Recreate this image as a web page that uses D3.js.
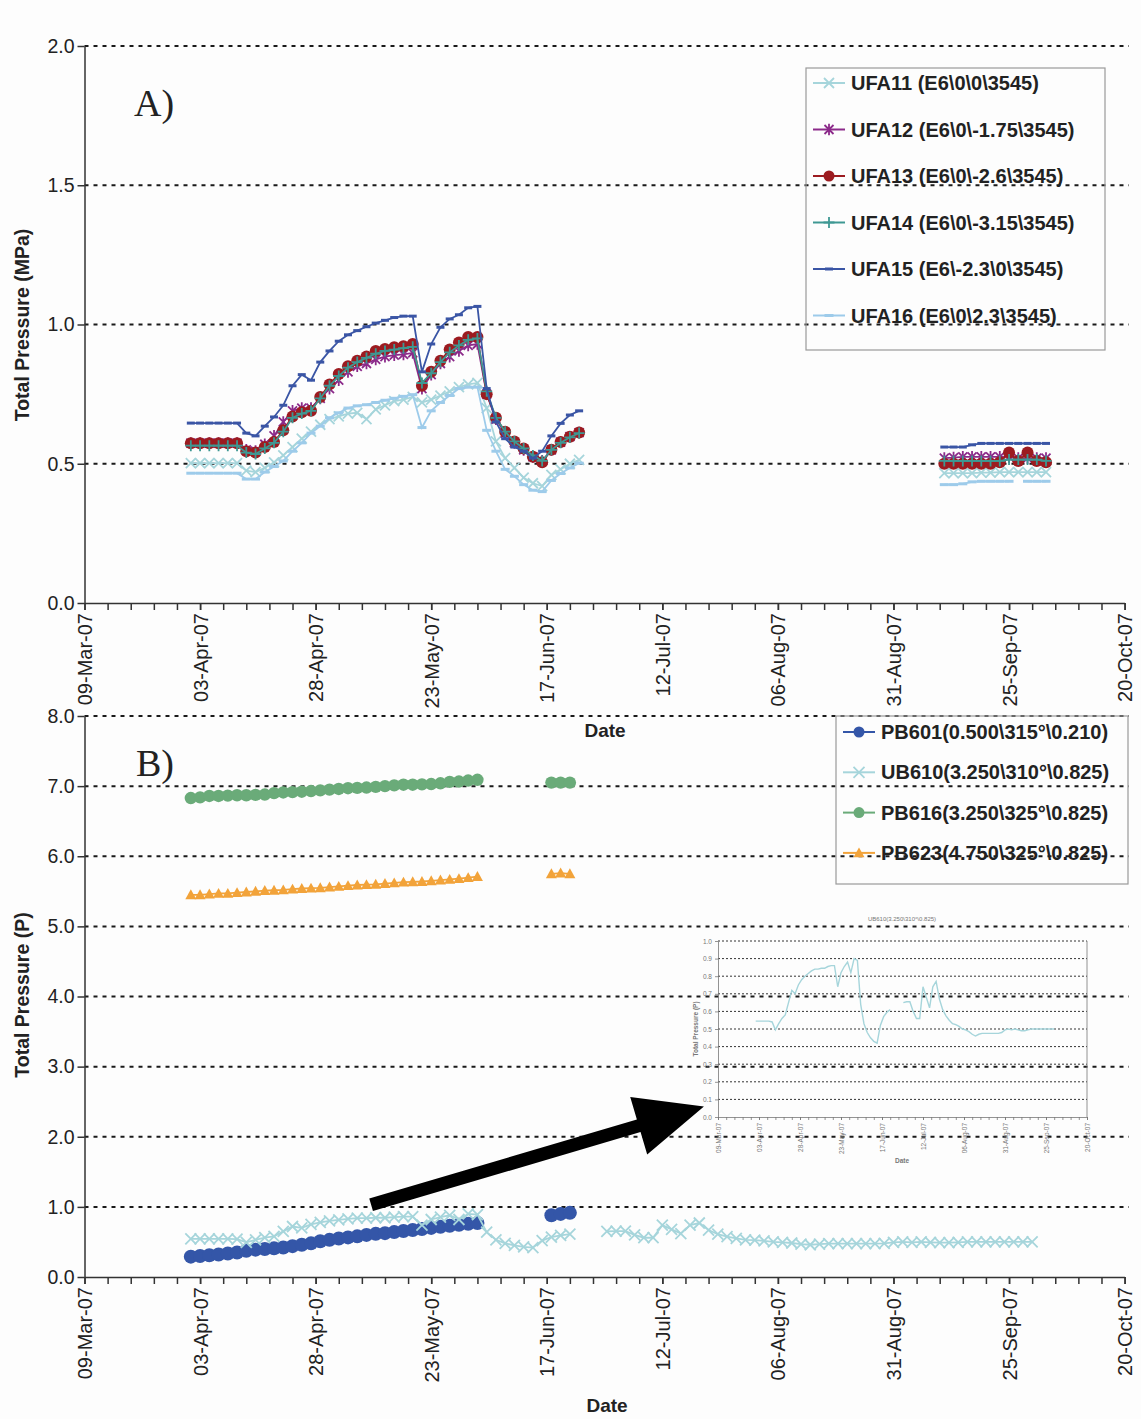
<html>

<head>
  <title>Total pressure - UFA and PB cells</title>
  <script src="https://d3js.org/d3.v7.min.js"></script>
  <style>
    body {
      margin: 0;
      background: #fdfdfd;
    }

    text {
      font-family: Arial, "Liberation Sans", sans-serif;
      fill: #222;
    }

    .grid {
      stroke: #1a1a1a;
      stroke-width: 2;
      stroke-dasharray: 4, 5;
    }

    .grid-small {
      stroke: #333;
      stroke-width: 1;
      stroke-dasharray: 2, 2;
    }

    .axis path,
    .axis line {
      stroke: #333;
      stroke-width: 1.5;
    }

    .inset path,
    .inset line {
      stroke: #777;
      stroke-width: 0.8;
    }

    .inset text {
      fill: #777;
    }
  </style>
</head>

<body>
  <svg id="chart" width="1141" height="1419"></svg>

  <script>

    // ---- data ----
    // readings are every 2 days, one array per logged block
    const STEP = 2;

    const dateTicks = ["09-Mar-07", "03-Apr-07", "28-Apr-07", "23-May-07", "17-Jun-07",
      "12-Jul-07", "06-Aug-07", "31-Aug-07", "25-Sep-07", "20-Oct-07"];
    const yTicksA = [0, 0.5, 1.0, 1.5, 2.0];
    const yTicksB = [0, 1, 2, 3, 4, 5, 6, 7, 8];
    const yTicksInset = [0, 0.1, 0.2, 0.3, 0.4, 0.5, 0.6, 0.7, 0.8, 0.9, 1.0];

    // panel A : UFA cells
    const blockStartA = ["2007-04-01", "2007-09-11"];
    const namesA = ["UFA11 (E6\\0\\0\\3545)", "UFA12 (E6\\0\\-1.75\\3545)", "UFA13 (E6\\0\\-2.6\\3545)",
      "UFA14 (E6\\0\\-3.15\\3545)", "UFA15 (E6\\-2.3\\0\\3545)", "UFA16 (E6\\0\\2.3\\3545)"];

    const ufa11 = [0.502, 0.502, 0.502, 0.502, 0.502, 0.502, 0.475, 0.47, 0.485, 0.505, 0.53, 0.56, 0.59, 0.615, 0.64, 0.66,
      0.67, 0.68, 0.683, 0.66, 0.695, 0.71, 0.725, 0.73, 0.74, 0.72, 0.73, 0.745, 0.76, 0.775, 0.785, 0.79, 0.70, 0.58, 0.52, 0.485,
      0.45, 0.43, 0.42, 0.46, 0.48, 0.50, 0.514];
    const ufa11b = [0.466, 0.466, 0.466, 0.466, 0.468, 0.468, 0.47, 0.47, 0.47, 0.47, 0.47, 0.47];

    const ufa12 = [0.574, 0.574, 0.574, 0.574, 0.574, 0.574, 0.55, 0.545, 0.57, 0.60, 0.65, 0.69, 0.70, 0.70, 0.735, 0.77,
      0.80, 0.83, 0.85, 0.86, 0.875, 0.885, 0.89, 0.893, 0.898, 0.77, 0.82, 0.86, 0.885, 0.905, 0.925, 0.93, 0.75, 0.66, 0.61, 0.575,
      0.55, 0.525, 0.51, 0.55, 0.578, 0.597, 0.612];
    const ufa12b = [0.52, 0.522, 0.525, 0.525, 0.525, 0.525, 0.525, 0.525, 0.52, 0.52, 0.52, 0.52];

    const ufa13 = [0.574, 0.574, 0.574, 0.574, 0.574, 0.574, 0.545, 0.54, 0.56, 0.578, 0.62, 0.67, 0.685, 0.69, 0.74, 0.785,
      0.822, 0.85, 0.87, 0.885, 0.905, 0.912, 0.918, 0.922, 0.93, 0.78, 0.83, 0.87, 0.91, 0.935, 0.955, 0.955, 0.75, 0.665, 0.615, 0.58,
      0.555, 0.525, 0.505, 0.55, 0.578, 0.597, 0.612];
    const ufa13b = [0.50, 0.50, 0.50, 0.50, 0.50, 0.50, 0.505, 0.54, 0.51, 0.54, 0.51, 0.505];

    const ufa14 = [0.565, 0.565, 0.565, 0.565, 0.565, 0.565, 0.54, 0.535, 0.555, 0.575, 0.615, 0.665, 0.68, 0.69, 0.735, 0.78,
      0.815, 0.845, 0.865, 0.88, 0.895, 0.905, 0.91, 0.915, 0.92, 0.79, 0.825, 0.865, 0.90, 0.925, 0.945, 0.95, 0.76, 0.665, 0.615, 0.58,
      0.555, 0.53, 0.51, 0.55, 0.575, 0.595, 0.61];
    const ufa14b = [0.51, 0.51, 0.51, 0.51, 0.51, 0.51, 0.51, 0.515, 0.515, 0.515, 0.515, 0.51];

    const ufa15 = [0.646, 0.646, 0.646, 0.646, 0.646, 0.646, 0.61, 0.60, 0.635, 0.668, 0.71, 0.78, 0.82, 0.80, 0.865, 0.905,
      0.94, 0.963, 0.978, 0.992, 1.005, 1.015, 1.025, 1.03, 1.03, 0.83, 0.93, 0.99, 1.02, 1.035, 1.06, 1.065, 0.77, 0.65, 0.59, 0.56,
      0.545, 0.52, 0.545, 0.60, 0.645, 0.675, 0.69];
    const ufa15b = [0.56, 0.56, 0.56, 0.568, 0.573, 0.573, 0.573, 0.573, 0.573, 0.573, 0.573, 0.573];

    const ufa16 = [0.466, 0.466, 0.466, 0.466, 0.466, 0.466, 0.445, 0.445, 0.47, 0.49, 0.51, 0.545, 0.575, 0.61, 0.635, 0.665,
      0.683, 0.70, 0.708, 0.712, 0.72, 0.728, 0.735, 0.742, 0.748, 0.63, 0.69, 0.72, 0.745, 0.77, 0.775, 0.775, 0.62, 0.545, 0.48, 0.455,
      0.425, 0.405, 0.40, 0.44, 0.465, 0.485, 0.502];
    const ufa16b = [0.425, 0.425, 0.428, 0.435, 0.437, 0.437, 0.437, 0.437, null, 0.437, 0.437, 0.437];

    // panel B : PB / UB cells
    const blockStartPB = ["2007-04-01", "2007-06-18"];
    const blockStartUB = ["2007-04-01", "2007-06-30"];
    const namesB = ["PB601(0.500\\315°\\0.210)", "UB610(3.250\\310°\\0.825)",
      "PB616(3.250\\325°\\0.825)", "PB623(4.750\\325°\\0.825)"];

    const pb601 = [0.29, 0.30, 0.31, 0.32, 0.335, 0.35, 0.375, 0.39, 0.40, 0.41, 0.42, 0.44, 0.46, 0.48, 0.51, 0.53,
      0.55, 0.565, 0.58, 0.60, 0.615, 0.625, 0.64, 0.655, 0.67, 0.685, 0.70, 0.715, 0.73, 0.745, 0.76, 0.77];
    const pb601b = [0.88, 0.90, 0.915];

    const ub610 = [0.545, 0.545, 0.545, 0.545, 0.545, 0.54, 0.495, 0.53, 0.56, 0.58, 0.65, 0.72, 0.70, 0.75, 0.78, 0.80,
      0.815, 0.83, 0.84, 0.84, 0.845, 0.845, 0.855, 0.86, 0.86, 0.74, 0.82, 0.855, 0.88, 0.82, 0.90, 0.89, 0.64, 0.53, 0.48, 0.45,
      0.43, 0.42, 0.52, 0.57, 0.595, 0.61];
    const ub610b = [0.65, 0.655, 0.655, 0.60, 0.56, 0.56, 0.74, 0.68, 0.62, 0.74, 0.77, 0.67, 0.61, 0.575, 0.55, 0.53,
      0.525, 0.515, 0.50, 0.495, 0.485, 0.47, 0.46, 0.47, 0.475, 0.475, 0.475, 0.475, 0.475, 0.475, 0.48, 0.495,
      0.50, 0.495, 0.50, 0.495, 0.49, 0.49, 0.495, 0.50, 0.50, 0.50, 0.50, 0.50, 0.50, 0.50, 0.50];

    const pb616 = [6.83, 6.84, 6.86, 6.86, 6.865, 6.87, 6.87, 6.875, 6.88, 6.90, 6.91, 6.915, 6.92, 6.93, 6.94, 6.95,
      6.96, 6.97, 6.975, 6.98, 6.99, 7.0, 7.01, 7.02, 7.02, 7.025, 7.03, 7.04, 7.06, 7.065, 7.08, 7.09];
    const pb616b = [7.05, 7.05, 7.05];

    const pb623 = [5.45, 5.45, 5.46, 5.47, 5.47, 5.48, 5.49, 5.50, 5.51, 5.515, 5.52, 5.53, 5.54, 5.545, 5.55, 5.56,
      5.57, 5.58, 5.59, 5.595, 5.60, 5.61, 5.62, 5.63, 5.635, 5.64, 5.65, 5.66, 5.67, 5.68, 5.695, 5.71];
    const pb623b = [5.75, 5.76, 5.75];

    // arrow from the PB601 data to the inset (date, pressure)
    const arrowFrom = ["2007-05-10", 1.03];
    const arrowTo = ["2007-07-21", 2.43];


    // ---- drawing ----
    const svg = d3.select("#chart");

    const parseTick = d3.utcParse("%d-%b-%y");
    const parseDay = d3.utcParse("%Y-%m-%d");
    const tickDates = dateTicks.map(parseTick);
    const firstDay = tickDates[0];
    const lastDay = tickDates[tickDates.length - 1];
    const minorDates = d3.utcDay.range(firstDay, d3.utcDay.offset(lastDay, 1), 5);

    const toPoints = function (starts, blocks) {
      let pts = [];
      blocks.forEach((vals, b) => {
        const s = parseDay(starts[b]);
        if (b > 0) pts.push({ date: s, v: null });
        vals.forEach((v, i) => pts.push({ date: d3.utcDay.offset(s, i * STEP), v: v }));
      });
      return pts;
    };

    const seriesA = [
      { name: namesA[0], pts: toPoints(blockStartA, [ufa11, ufa11b]), color: "#a6d5db", mark: "x", s: 5 },
      { name: namesA[1], pts: toPoints(blockStartA, [ufa12, ufa12b]), color: "#8c2a8a", mark: "star", s: 4.5 },
      { name: namesA[2], pts: toPoints(blockStartA, [ufa13, ufa13b]), color: "#9c1b20", mark: "circle", s: 6 },
      { name: namesA[3], pts: toPoints(blockStartA, [ufa14, ufa14b]), color: "#3e9893", mark: "plus", s: 5.5 },
      { name: namesA[4], pts: toPoints(blockStartA, [ufa15, ufa15b]), color: "#3a55a5", mark: "dash", s: 4 },
      { name: namesA[5], pts: toPoints(blockStartA, [ufa16, ufa16b]), color: "#9dcbea", mark: "dash", s: 4.5 }
    ];

    const seriesB = [
      { name: namesB[0], pts: toPoints(blockStartPB, [pb601, pb601b]), color: "#3456a8", mark: "circle", s: 7 },
      { name: namesB[1], pts: toPoints(blockStartUB, [ub610, ub610b]), color: "#a6d5db", mark: "x", s: 5.5 },
      { name: namesB[2], pts: toPoints(blockStartPB, [pb616, pb616b]), color: "#6aab79", mark: "circle", s: 6.2 },
      { name: namesB[3], pts: toPoints(blockStartPB, [pb623, pb623b]), color: "#f2a33a", mark: "triangle", s: 5.5 }
    ];

    const markPath = function (kind, s) {
      switch (kind) {
        case "x": return `M${-s},${-s}L${s},${s}M${-s},${s}L${s},${-s}`;
        case "star": return `M${-s},${-s}L${s},${s}M${-s},${s}L${s},${-s}M0,${-s * 1.3}V${s * 1.3}`;
        case "plus": return `M${-s},0H${s}M0,${-s}V${s}`;
        case "dash": return `M${-s},0H${s}`;
        case "triangle": return `M0,${-s}L${s},${s * 0.8}L${-s},${s * 0.8}Z`;
        case "circle": return d3.symbol().type(d3.symbolCircle).size(Math.PI * s * s)();
      }
    };

    const drawMark = function (sel, d) {
      const filled = d.mark === "circle" || d.mark === "triangle";
      sel.attr("d", markPath(d.mark, d.s))
        .attr("fill", filled ? d.color : "none")
        .attr("stroke", filled ? "none" : d.color)
        .attr("stroke-width", d.mark === "dash" ? 3 : 1.8);
    };

    const drawPanel = function (cfg) {
      const g = svg.append("g");
      const x = d3.scaleUtc().domain([firstDay, lastDay]).range([cfg.left, cfg.right]);
      const y = d3.scaleLinear().domain([cfg.yTicks[0], cfg.yTicks[cfg.yTicks.length - 1]]).range([cfg.bottom, cfg.top]);

      g.selectAll("line.gl").data(cfg.yTicks.filter(t => t > 0))
        .join("line")
        .attr("class", cfg.small ? "grid-small" : "grid")
        .attr("x1", cfg.left).attr("x2", cfg.gridEnd)
        .attr("y1", d => y(d)).attr("y2", d => y(d));

      const cls = cfg.small ? "inset" : "axis";

      g.append("g").attr("class", cls)
        .attr("transform", `translate(0,${cfg.bottom})`)
        .call(d3.axisBottom(x).tickValues(minorDates).tickFormat("").tickSize(cfg.tick))
        .call(a => a.select(".domain").remove());

      const xa = g.append("g").attr("class", cls)
        .attr("transform", `translate(0,${cfg.bottom})`)
        .call(d3.axisBottom(x).tickValues(tickDates).tickFormat(d3.utcFormat("%d-%b-%y")).tickSize(cfg.tick).tickSizeOuter(0));
      xa.selectAll("text")
        .attr("transform", "rotate(-90)")
        .attr("x", -cfg.tick - 3).attr("y", 0).attr("dy", "0.35em")
        .style("text-anchor", "end")
        .style("font-size", cfg.xFont + "px");

      const ya = g.append("g").attr("class", cls)
        .attr("transform", `translate(${cfg.left},0)`)
        .call(d3.axisLeft(y).tickValues(cfg.yTicks).tickFormat(d3.format(".1f")).tickSize(cfg.tick).tickSizeOuter(0));
      ya.selectAll("text").style("font-size", cfg.yFont + "px");

      return { g, x, y };
    };

    const plotSeries = function (panel, series, withMarks) {
      const line = d3.line().defined(d => d.v != null)
        .x(d => panel.x(d.date)).y(d => panel.y(d.v));
      series.forEach(s => {
        const sg = panel.g.append("g");
        sg.append("path").datum(s.pts)
          .attr("d", line)
          .attr("fill", "none")
          .attr("stroke", s.color)
          .attr("stroke-width", withMarks ? 1.8 : 1.4);
        if (!withMarks) return;
        sg.selectAll("path.m").data(s.pts.filter(d => d.v != null))
          .join("path")
          .attr("class", "m")
          .attr("transform", d => `translate(${panel.x(d.date)},${panel.y(d.v)})`)
          .each(function () { drawMark(d3.select(this), s); });
      });
    };

    const drawLegend = function (series, box, rowH, fontSize) {
      const lg = svg.append("g");
      lg.append("rect")
        .attr("x", box.x).attr("y", box.y).attr("width", box.w).attr("height", box.h)
        .attr("fill", "none").attr("stroke", "#9a9a9a").attr("stroke-width", 1.2);
      series.forEach((s, i) => {
        const cy = box.first + i * rowH;
        lg.append("line")
          .attr("x1", box.lx).attr("x2", box.lx + 32).attr("y1", cy).attr("y2", cy)
          .attr("stroke", s.color).attr("stroke-width", 2);
        lg.append("path")
          .attr("transform", `translate(${box.lx + 16},${cy})`)
          .call(sel => drawMark(sel, Object.assign({}, s, { s: Math.min(s.s, 5.5) })));
        lg.append("text")
          .attr("x", box.lx + 38).attr("y", cy).attr("dy", "0.35em")
          .style("font-size", fontSize + "px").style("font-weight", "bold")
          .text(s.name);
      });
    };

    // panel A
    const panelA = drawPanel({ left: 84.5, right: 1124.6, gridEnd: 1129, top: 46, bottom: 603, yTicks: yTicksA, tick: 7, xFont: 20, yFont: 19.5 });
    plotSeries(panelA, seriesA, true);
    drawLegend(seriesA, { x: 806, y: 68, w: 299, h: 282, lx: 813, first: 83, }, 46.5, 20);

    // panel B
    const panelB = drawPanel({ left: 84.5, right: 1124.6, gridEnd: 1129, top: 716, bottom: 1277, yTicks: yTicksB, tick: 7, xFont: 20, yFont: 19.5 });
    plotSeries(panelB, seriesB, true);
    drawLegend(seriesB, { x: 836, y: 716, w: 292, h: 168, lx: 843, first: 732, }, 40.3, 20);

    // inset: UB610 alone on a 0-1 scale
    const inset = drawPanel({ left: 718, right: 1087, gridEnd: 1087, top: 941, bottom: 1117, yTicks: yTicksInset, tick: 3, xFont: 6.5, yFont: 6.5, small: true });
    inset.g.append("line")
      .attr("x1", 1087).attr("x2", 1087).attr("y1", 941).attr("y2", 1117)
      .attr("stroke", "#777").attr("stroke-width", 0.8);
    plotSeries(inset, [seriesB[1]], false);
    inset.g.append("text").attr("x", 902).attr("y", 921)
      .style("font-size", "6px").style("fill", "#777").style("text-anchor", "middle")
      .text(namesB[1]);
    inset.g.append("text").attr("x", 902).attr("y", 1163)
      .style("font-size", "6.5px").style("font-weight", "bold").style("fill", "#777").style("text-anchor", "middle")
      .text("Date");
    inset.g.append("text")
      .attr("transform", "translate(698,1029) rotate(-90)")
      .style("font-size", "6.5px").style("font-weight", "bold").style("fill", "#777").style("text-anchor", "middle")
      .text("Total Pressure (P)");

    // arrow pointing at the inset
    const p0 = [panelB.x(parseDay(arrowFrom[0])), panelB.y(arrowFrom[1])];
    const p1 = [panelB.x(parseDay(arrowTo[0])), panelB.y(arrowTo[1])];
    const len = Math.hypot(p1[0] - p0[0], p1[1] - p0[1]);
    const u = [(p1[0] - p0[0]) / len, (p1[1] - p0[1]) / len];
    const n = [-u[1], u[0]];
    const headL = 68, headW = 30, shaftW = 6.5;
    const hb = [p1[0] - headL * u[0], p1[1] - headL * u[1]];
    const pt = (b, k) => [b[0] + k * n[0], b[1] + k * n[1]];
    const arrowPts = [pt(p0, shaftW), pt(hb, shaftW), pt(hb, headW), p1, pt(hb, -headW), pt(hb, -shaftW), pt(p0, -shaftW)];
    svg.append("path")
      .attr("d", "M" + arrowPts.map(p => p.join(",")).join("L") + "Z")
      .attr("fill", "#000");

    // titles
    const title = function (txt, tx, ty, rot, size) {
      svg.append("text")
        .attr("transform", `translate(${tx},${ty})` + (rot ? " rotate(-90)" : ""))
        .style("font-size", size + "px").style("font-weight", "bold").style("text-anchor", "middle")
        .text(txt);
    };
    title("Date", 605, 737, false, 19);
    title("Date", 607, 1412, false, 19);
    title("Total Pressure (MPa)", 29, 325, true, 19.5);
    title("Total Pressure (P)", 29, 995, true, 19.5);

    svg.append("text").attr("x", 134).attr("y", 116)
      .style("font-family", "'Liberation Serif', 'DejaVu Serif', serif").style("font-size", "38px")
      .text("A)");
    svg.append("text").attr("x", 136).attr("y", 776)
      .style("font-family", "'Liberation Serif', 'DejaVu Serif', serif").style("font-size", "38px")
      .text("B)");

  </script>
</body>

</html>
